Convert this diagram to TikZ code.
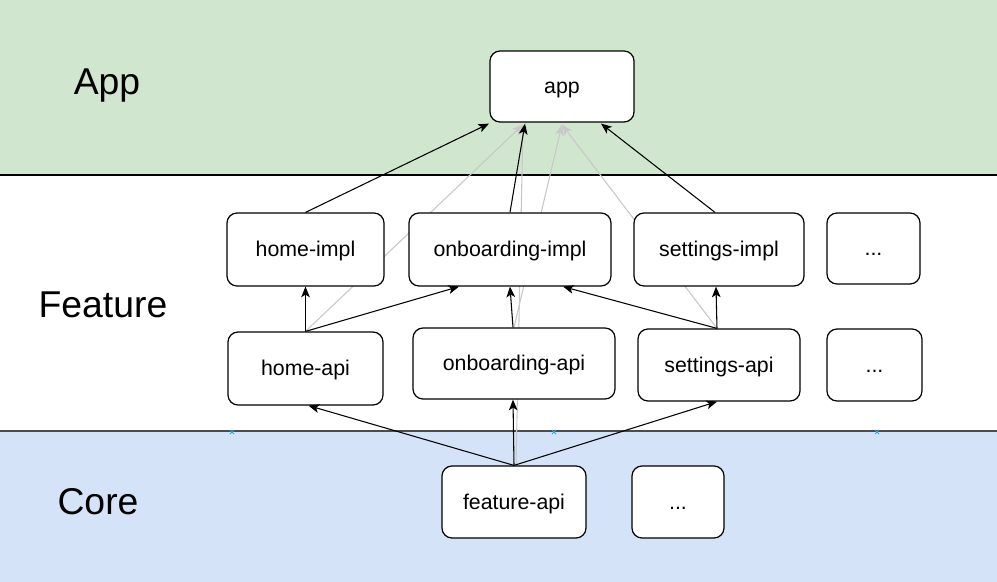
\documentclass[tikz,border=0pt]{standalone}
\usepackage{fontspec}
\setmainfont{Liberation Sans}
\usetikzlibrary{arrows.meta,calc}
\pgfdeclarelayer{bg}
\pgfdeclarelayer{mid}
\pgfsetlayers{bg,mid,main}
\definecolor{appgreen}{HTML}{D0E6CF}
\definecolor{coreblue}{HTML}{D4E3F8}
\definecolor{edgegray}{HTML}{C8C8C8}
\definecolor{markcyan}{HTML}{2AA6DE}
\tikzset{
  mod/.style={draw=black, line width=0.9pt, fill=white, rounded corners=7.5pt,
    inner sep=0pt, text height=14pt, text depth=3pt,
    font=\fontsize{16}{19}\selectfont},
  layerlabel/.style={font=\fontsize{28}{33}\selectfont, inner sep=0pt},
  dep/.style={draw=black, line width=0.8pt, -{Stealth[length=8pt,width=6.5pt,inset=2pt]}},
  gdep/.style={draw=edgegray, line width=0.8pt, -{Stealth[length=8pt,width=6.5pt,inset=2pt]}},
  xmark/.style={draw=markcyan, line width=0.6pt}
}
\begin{document}
\begin{tikzpicture}[x=0.75pt,y=-0.75pt]
\useasboundingbox (0,0) rectangle (997,582);
\begin{pgfonlayer}{bg}
  \fill[appgreen] (0,0) rectangle (997,175);
  \fill[white] (0,175) rectangle (997,431);
  \fill[coreblue] (0,431) rectangle (997,582);
  \draw[black, line width=0.9pt] (0,175) -- (997,175);
  \draw[black!70, line width=1.5pt] (0,431) -- (997,431);
\end{pgfonlayer}

% layer labels
\node[layerlabel] (lapp) at (107,85.5) {App};
\node[layerlabel] (lfeat) at (103,305) {Feature};
\node[layerlabel] (lcore) at (98,502) {Core};

% modules
\node[mod, minimum width=108pt, minimum height=53.25pt] (app) at (562,86.5) {app};
\node[mod, minimum width=117.75pt, minimum height=54.75pt] (himpl) at (305.5,249.5) {home-impl};
\node[mod, minimum width=151.5pt, minimum height=54.75pt] (oimpl) at (510,249.5) {onboarding-impl};
\node[mod, minimum width=127.5pt, minimum height=54.75pt] (simpl) at (719,249.5) {settings-impl};
\node[mod, minimum width=69.75pt, minimum height=53.25pt] (dotsa) at (873.5,248.5) {...};
\node[mod, minimum width=116.25pt, minimum height=54.75pt] (hapi) at (305.5,368.5) {home-api};
\node[mod, minimum width=151.5pt, minimum height=53.25pt] (oapi) at (514,363.5) {onboarding-api};
\node[mod, minimum width=121.5pt, minimum height=54pt] (sapi) at (719,365) {settings-api};
\node[mod, minimum width=71.25pt, minimum height=54pt] (dotsb) at (874.5,365) {...};
\node[mod, minimum width=108pt, minimum height=54pt] (fapi) at (514,502) {feature-api};
\node[mod, minimum width=69pt, minimum height=54pt] (dotsc) at (678,502) {...};

% gray dependencies (behind the modules)
\begin{pgfonlayer}{mid}
  \draw[gdep] (hapi.north) -- ($(app.south)+(-39,2)$);
  \draw[gdep] ($(fapi.north)+(2,0)$) -- ($(app.south)+(-39,2)$);
  \draw[gdep] (oapi.north) -- ($(app.south)+(0,2)$);
  \draw[gdep] ($(sapi.north)+(-2,0)$) -- ($(app.south)+(0,2)$);
\end{pgfonlayer}

% black dependencies
\draw[dep] (himpl.north) -- ($(app.south)+(-73,1)$);
\draw[dep] (oimpl.north) -- ($(app.south)+(-37,1)$);
\draw[dep] ($(simpl.north)+(-4,0)$) -- ($(app.south)+(39,1)$);
\draw[dep] (hapi.north) -- (himpl.south);
\draw[dep] (hapi.north) -- ($(oimpl.south)+(-51,0)$);
\draw[dep] ($(oapi.north)+(-1,0)$) -- (oimpl.south);
\draw[dep] ($(sapi.north)+(-2,0)$) -- ($(oimpl.south)+(53,0)$);
\draw[dep] ($(sapi.north)+(-2,0)$) -- ($(simpl.south)+(-3,0)$);
\draw[dep] (fapi.north) -- ($(hapi.south)+(3,0)$);
\draw[dep] (fapi.north) -- ($(oapi.south)+(-1,0)$);
\draw[dep] (fapi.north) -- ($(sapi.south)+(-2,0)$);

% small connection marks on the core boundary
\foreach \mx in {232,554,877}{
  \draw[xmark] (\mx-2,430) -- (\mx+2,434) (\mx-2,434) -- (\mx+2,430);
}
\end{tikzpicture}
\end{document}
